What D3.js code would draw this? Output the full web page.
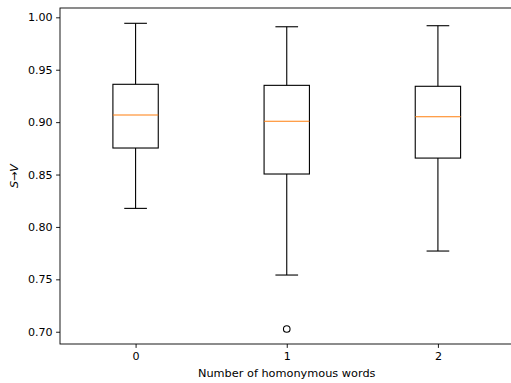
<!DOCTYPE html>
<html>
<head>
<meta charset="utf-8">
<script src="https://cdn.jsdelivr.net/npm/d3@7"></script>
<style>
  html, body { margin: 0; padding: 0; background: #fff; }
  svg { display: block; }
  text { font-family: "DejaVu Sans", sans-serif; fill: #000; }
</style>
</head>
<body>
<svg id="chart" width="511" height="383"></svg>
<script>
// Box statistics per group (number of homonymous words)
const categories = ["0", "1", "2"];
const whiskerLow = [0.8177, 0.7541, 0.7770];
const q1 = [0.8753, 0.8505, 0.8657];
const median = [0.9068, 0.9008, 0.9052];
const q3 = [0.9361, 0.9351, 0.9342];
const whiskerHigh = [0.9943, 0.9910, 0.9920];
const outliers = [[], [0.7026], []];
const yTicks = [0.70, 0.75, 0.80, 0.85, 0.90, 0.95, 1.00];

const svg = d3.select("#chart");
const margin = { left: 60, top: 8, right: 513.5, bottom: 344 };
const fontSize = 11.1;
const lw = 1.1;

const x = d3.scaleLinear().domain([0.5, categories.length + 0.5]).range([margin.left, margin.right]);
const y = d3.scaleLinear().domain([0.6883, 1.0089]).range([margin.bottom, margin.top]);

const boxW = x(1.15) - x(0.85);
const capW = boxW / 2;

const g = svg.append("g");

// Boxes, whiskers, caps, medians
categories.forEach((c, i) => {
  const cx = x(i + 1);
  const grp = g.append("g");
  grp.append("line").attr("x1", cx).attr("x2", cx).attr("y1", y(q3[i])).attr("y2", y(whiskerHigh[i]))
    .attr("stroke", "#000").attr("stroke-width", lw);
  grp.append("line").attr("x1", cx).attr("x2", cx).attr("y1", y(q1[i])).attr("y2", y(whiskerLow[i]))
    .attr("stroke", "#000").attr("stroke-width", lw);
  grp.append("line").attr("x1", cx - capW / 2).attr("x2", cx + capW / 2).attr("y1", y(whiskerHigh[i])).attr("y2", y(whiskerHigh[i]))
    .attr("stroke", "#000").attr("stroke-width", lw);
  grp.append("line").attr("x1", cx - capW / 2).attr("x2", cx + capW / 2).attr("y1", y(whiskerLow[i])).attr("y2", y(whiskerLow[i]))
    .attr("stroke", "#000").attr("stroke-width", lw);
  grp.append("rect").attr("x", cx - boxW / 2).attr("width", boxW)
    .attr("y", y(q3[i])).attr("height", y(q1[i]) - y(q3[i]))
    .attr("fill", "none").attr("stroke", "#000").attr("stroke-width", lw);
  grp.append("line").attr("x1", cx - boxW / 2).attr("x2", cx + boxW / 2).attr("y1", y(median[i])).attr("y2", y(median[i]))
    .attr("stroke", "#ff7f0e").attr("stroke-width", lw);
  outliers[i].forEach(v => {
    grp.append("circle").attr("cx", cx).attr("cy", y(v)).attr("r", 3.3)
      .attr("fill", "none").attr("stroke", "#000").attr("stroke-width", lw);
  });
});

// Axes
const yAxis = d3.axisLeft(y).tickValues(yTicks).tickFormat(d3.format(".2f")).tickSize(3.9).tickPadding(3.5);
const xAxis = d3.axisBottom(x).tickValues(categories.map((c, i) => i + 1)).tickFormat((d, i) => categories[i]).tickSize(3.9).tickPadding(4);

const ya = svg.append("g").attr("transform", `translate(${margin.left},0)`).call(yAxis);
const xa = svg.append("g").attr("transform", `translate(0,${margin.bottom})`).call(xAxis);
[ya, xa].forEach(a => {
  a.select(".domain").remove();
  a.selectAll(".tick line").attr("stroke", "#000").attr("stroke-width", 0.9);
  a.selectAll(".tick text").attr("font-size", fontSize).attr("font-family", "DejaVu Sans").attr("fill", "#000");
});

// Frame
svg.append("rect").attr("x", margin.left).attr("y", margin.top)
  .attr("width", margin.right - margin.left).attr("height", margin.bottom - margin.top)
  .attr("fill", "none").attr("stroke", "#000").attr("stroke-width", 0.9);

// Axis labels
svg.append("text").attr("x", (margin.left + margin.right) / 2).attr("y", 377)
  .attr("text-anchor", "middle").attr("font-size", 11.3).text("Number of homonymous words");
const yl = svg.append("text").attr("transform", `translate(18,${(margin.top + margin.bottom) / 2}) rotate(-90)`)
  .attr("text-anchor", "middle").attr("font-size", fontSize);
yl.append("tspan").attr("font-style", "italic").text("S");
yl.append("tspan").text("→");
yl.append("tspan").attr("font-style", "italic").text("V");
</script>
</body>
</html>
